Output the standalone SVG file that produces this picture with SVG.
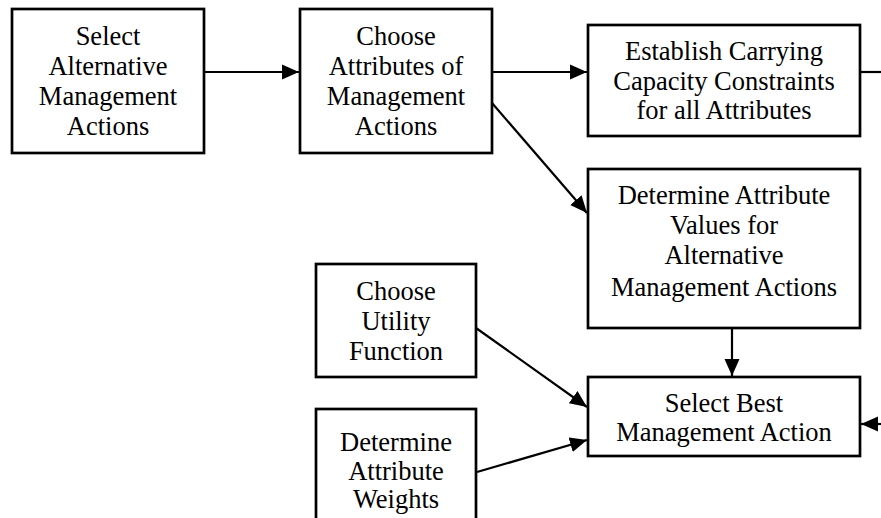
<svg xmlns="http://www.w3.org/2000/svg" width="881" height="518" viewBox="0 0 881 518">
<style>
.box{fill:#fff;stroke:#000;stroke-width:2.7}
.t{font-family:'Liberation Serif','Times New Roman',Tinos,'DejaVu Serif',serif;font-size:26.5px;fill:#000;text-anchor:middle}
.c{stroke:#000;stroke-width:2.2;fill:none}
</style>
<defs>
<marker id="ah" markerUnits="userSpaceOnUse" markerWidth="18" markerHeight="16" viewBox="0 0 18 16" refX="17" refY="8" orient="auto">
<path d="M0,0.5 L17,8 L0,15.5 Z" fill="#000"/>
</marker>
</defs>
<rect width="881" height="518" fill="#fff"/>
<g id="connectors">
<line class="c" x1="204" y1="72" x2="299" y2="72" marker-end="url(#ah)"/>
<line class="c" x1="492" y1="72" x2="587" y2="72" marker-end="url(#ah)"/>
<line class="c" x1="492" y1="103" x2="587" y2="213" marker-end="url(#ah)"/>
<line class="c" x1="860" y1="72" x2="881" y2="72"/>
<line class="c" x1="732" y1="328" x2="732" y2="376" marker-end="url(#ah)"/>
<line class="c" x1="476" y1="328" x2="587" y2="407" marker-end="url(#ah)"/>
<line class="c" x1="477" y1="472" x2="587" y2="440" marker-end="url(#ah)"/>
<line class="c" x1="881" y1="424" x2="861" y2="424" marker-end="url(#ah)"/>
</g>
<g id="n1">
<rect class="box" x="12" y="9" width="192" height="144"/>
<text class="t" x="108" y="45" font-family="Liberation Serif, serif">Select</text>
<text class="t" x="108" y="75">Alternative</text>
<text class="t" x="108" y="105">Management</text>
<text class="t" x="108" y="135">Actions</text>
</g>
<g id="n2">
<rect class="box" x="300" y="9" width="192" height="144"/>
<text class="t" x="396" y="45">Choose</text>
<text class="t" x="396" y="75">Attributes of</text>
<text class="t" x="396" y="105">Management</text>
<text class="t" x="396" y="135">Actions</text>
</g>
<g id="n3">
<rect class="box" x="588" y="25" width="272" height="111"/>
<text class="t" x="724" y="60">Establish Carrying</text>
<text class="t" x="724" y="90">Capacity Constraints</text>
<text class="t" x="724" y="119">for all Attributes</text>
</g>
<g id="n4">
<rect class="box" x="588" y="169" width="272" height="159"/>
<text class="t" x="724" y="204">Determine Attribute</text>
<text class="t" x="724" y="234">Values for</text>
<text class="t" x="724" y="264">Alternative</text>
<text class="t" x="724" y="296">Management Actions</text>
</g>
<g id="n5">
<rect class="box" x="588" y="377" width="272" height="79"/>
<text class="t" x="724" y="412">Select Best</text>
<text class="t" x="724" y="441">Management Action</text>
</g>
<g id="n6">
<rect class="box" x="316" y="264" width="160" height="113"/>
<text class="t" x="396" y="300">Choose</text>
<text class="t" x="396" y="330">Utility</text>
<text class="t" x="396" y="360">Function</text>
</g>
<g id="n7">
<rect class="box" x="316" y="409" width="160" height="130"/>
<text class="t" x="396" y="451">Determine</text>
<text class="t" x="396" y="480">Attribute</text>
<text class="t" x="396" y="508">Weights</text>
</g>
</svg>
